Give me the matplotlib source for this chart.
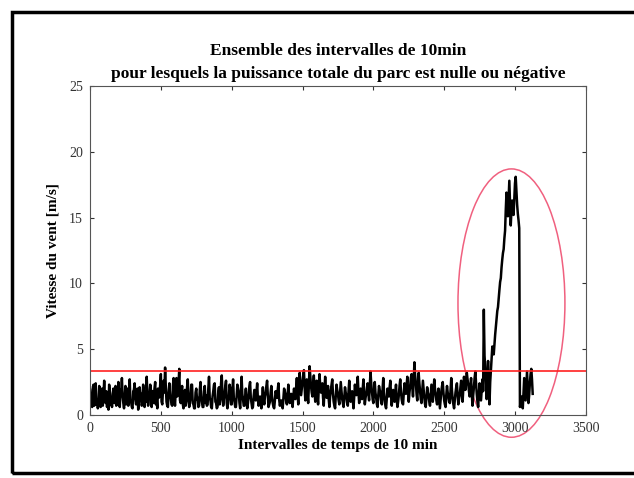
import numpy as np
from matplotlib import pyplot as plt
from matplotlib.patches import Ellipse, Rectangle

# vitesse du vent, un point tous les 5 intervalles de 10 min
pas = 5
vitesse = [
    2.1, 0.9, 1.4, 0.6, 1.9, 2.3, 0.7, 1.2, 2.4, 0.8, 1.1, 0.5, 0.9, 2.2, 1.6, 0.6, 1.0, 2.0, 0.7, 1.5,
    2.6, 1.3, 0.9, 1.8, 0.6, 1.4, 0.4, 2.3, 1.7, 0.8, 1.2, 0.6, 1.6, 2.0, 0.9, 1.5, 2.2, 0.7, 1.1, 0.8,
    2.5, 1.2, 0.6, 1.9, 1.7, 2.8, 1.4, 0.9, 0.5, 1.3, 2.2, 0.8, 1.4, 2.0, 0.7, 1.6, 2.7, 1.1, 1.0, 0.6,
    0.5, 1.8, 1.9, 2.4, 1.2, 0.8, 1.3, 2.0, 0.4, 0.9, 2.1, 1.5, 1.6, 0.7, 0.9, 2.3, 1.8, 0.6, 1.4, 1.0,
    2.9, 1.6, 0.7, 1.2, 1.5, 2.3, 1.9, 0.6, 1.8, 1.1, 0.9, 2.0, 2.5, 0.8, 1.2, 0.5, 2.0, 1.3, 1.4, 2.2,
    3.1, 1.0, 0.8, 1.9, 2.6, 1.7, 3.6, 2.1, 1.0, 0.7, 0.6, 1.8, 2.4, 1.5, 1.3, 0.8, 0.7, 2.2, 2.8, 1.2,
    0.7, 1.9, 2.8, 1.4, 1.6, 2.4, 3.5, 1.1, 0.9, 1.7, 2.2, 0.8, 0.5, 1.5, 1.9, 0.7, 1.1, 2.1, 2.7, 1.3,
    0.6, 1.0, 1.4, 2.3, 2.3, 0.9, 0.8, 0.5, 0.5, 1.7, 2.0, 1.2, 1.3, 0.6, 0.7, 1.9, 2.5, 1.4, 1.0, 0.6,
    0.6, 1.8, 2.2, 0.9, 1.5, 0.7, 0.8, 2.0, 2.9, 1.3, 1.1, 0.6, 0.5, 1.4, 1.8, 2.3, 2.4, 1.0, 0.9, 0.5,
    0.6, 1.7, 2.1, 0.8, 1.2, 2.4, 3.0, 1.5, 0.7, 1.2, 1.6, 2.2, 2.6, 0.9, 0.5, 1.1, 1.3, 2.3, 2.0, 0.8,
    0.8, 1.9, 2.7, 1.3, 1.0, 0.6, 0.6, 1.5, 2.3, 2.0, 1.7, 0.9, 0.5, 1.8, 2.9, 1.6, 1.2, 0.7, 0.7, 1.4,
    2.0, 1.1, 0.5, 0.9, 1.5, 2.2, 2.5, 1.3, 0.9, 0.5, 0.6, 1.4, 1.9, 1.5, 1.1, 1.8, 2.4, 1.2, 0.7, 1.0,
    1.4, 0.9, 0.5, 1.3, 2.1, 1.2, 0.8, 1.4, 1.7, 2.2, 2.6, 1.5, 0.6, 0.8, 1.0, 1.7, 2.2, 1.4, 0.9, 0.6,
    0.5, 1.1, 1.8, 1.6, 1.3, 1.9, 2.4, 1.2, 0.7, 0.9, 1.1, 0.7, 0.5, 1.3, 2.0, 1.8, 1.5, 1.0, 0.8, 1.6,
    2.3, 1.5, 0.9, 1.2, 1.6, 1.0, 0.6, 1.4, 2.0, 1.6, 1.2, 2.1, 2.8, 1.7, 0.8, 2.2, 3.2, 2.3, 1.5, 2.0,
    2.5, 3.0, 3.4, 2.1, 1.1, 1.9, 2.7, 1.6, 0.9, 2.4, 3.7, 2.9, 2.2, 1.7, 1.4, 2.3, 3.0, 1.8, 1.0, 1.9,
    2.6, 1.5, 0.8, 2.1, 3.1, 2.2, 1.7, 2.0, 2.4, 1.3, 0.7, 1.9, 2.9, 2.0, 1.3, 1.8, 2.2, 1.2, 0.6, 1.4,
    1.9, 2.3, 2.7, 1.6, 1.0, 0.7, 0.5, 1.5, 2.3, 1.9, 1.6, 1.1, 0.8, 1.7, 2.5, 1.8, 1.2, 0.9, 0.6, 1.4,
    2.1, 1.7, 1.4, 0.9, 0.7, 1.8, 2.6, 1.6, 1.0, 1.5, 1.8, 1.1, 0.5, 1.4, 2.3, 1.8, 1.5, 2.2, 2.9, 1.7,
    0.9, 1.6, 2.0, 1.4, 1.2, 2.0, 2.7, 1.5, 0.8, 1.3, 1.6, 2.1, 2.4, 1.6, 1.1, 2.2, 3.3, 2.4, 1.8, 1.2,
    0.9, 1.8, 2.5, 1.7, 1.3, 0.8, 0.6, 1.5, 2.2, 1.9, 1.7, 1.1, 0.8, 1.9, 2.8, 1.8, 1.1, 0.7, 0.5, 1.3,
    2.0, 1.6, 1.4, 2.1, 2.6, 1.5, 0.7, 1.4, 1.9, 1.3, 1.0, 1.7, 2.3, 1.2, 0.6, 1.0, 1.5, 2.2, 2.7, 1.8,
    1.2, 0.9, 0.8, 1.7, 2.4, 1.9, 1.6, 2.3, 2.9, 1.8, 1.0, 1.7, 2.2, 2.8, 3.1, 2.1, 1.4, 2.6, 4.0, 3.0,
    2.5, 1.6, 1.1, 2.2, 3.2, 2.4, 1.8, 1.2, 0.9, 1.8, 2.6, 1.9, 1.3, 0.8, 0.6, 1.4, 2.1, 1.7, 1.5, 1.0,
    0.7, 1.5, 2.3, 1.6, 1.0, 1.9, 2.7, 2.0, 1.6, 1.1, 0.8, 1.5, 2.0, 1.2, 0.5, 1.2, 1.8, 2.2, 2.5, 1.7,
    1.1, 0.8, 0.6, 1.5, 2.2, 1.7, 1.4, 1.0, 0.9, 1.9, 2.8, 1.9, 1.2, 0.8, 0.5, 1.1, 1.7, 2.1, 2.4, 1.5,
    0.8, 1.2, 1.5, 2.1, 2.6, 1.7, 1.0, 2.0, 2.9, 2.3, 1.9, 2.6, 3.2, 2.7, 2.3, 1.8, 1.4, 2.2, 2.8, 1.6,
    0.7, 1.5, 2.1, 2.8, 3.3, 2.4, 1.6, 1.0, 0.6, 1.6, 2.4, 1.7, 1.1, 1.9, 2.7, 1.8, 8.0, 4.5, 3.6, 2.2,
    1.2, 2.8, 4.1, 2.0, 0.8, 2.5, 3.4, 4.3, 5.2, 4.8, 4.6, 5.4, 6.1, 6.7, 7.3, 7.9, 8.2, 8.9, 9.5, 10.1,
    10.4, 11.2, 11.8, 12.3, 12.6, 13.4, 14.0, 15.6, 16.9, 16.0, 15.1, 16.5, 17.8, 16.1, 14.4, 15.5, 16.3, 15.7, 15.2, 16.4,
    17.6, 18.1, 17.0, 16.0, 15.3, 14.8, 14.2, 0.6, 0.9, 1.4, 0.8, 0.5, 1.6, 2.8, 1.9, 1.1, 2.2, 3.3, 2.0, 0.9,
    1.5, 2.4, 3.1, 3.5, 2.7, 1.6,
]
seuil = 3.3  # vitesse de demarrage

plt.rcParams['font.family'] = ['Liberation Serif', 'DejaVu Serif']

fig = plt.figure(figsize=(6.34, 4.78), dpi=100)
# cadre autour de la figure
fig.patches.append(Rectangle((0.019, 0.010), 1.2, 0.965, transform=fig.transFigure,
                             fill=False, edgecolor='black', linewidth=2.5))

ax = fig.add_axes([0.142, 0.132, 0.782, 0.688])
x = np.arange(len(vitesse)) * pas
ax.plot(x, vitesse, color='black', linewidth=1.8)
ax.axhline(seuil, color='#ff2020', linewidth=1.2)
ax.add_patch(Ellipse((2975, 8.5), 755, 20.4, fill=False, edgecolor='#f0607f',
                     linewidth=1.1, clip_on=False))

ax.set_xlim(0, 3500)
ax.set_ylim(0, 25)
ax.set_xticks(np.arange(0, 3501, 500))
ax.set_yticks(np.arange(0, 26, 5))
ax.tick_params(direction='in', top=True, right=True, labelsize=10, length=3,
               colors='#333333', pad=5)
for s in ax.spines.values():
    s.set_color('#555555')
    s.set_linewidth(0.8)

ax.set_title("Ensemble des intervalles de 10min\npour lesquels la puissance totale du parc est nulle ou négative",
             fontsize=12.5, fontweight='bold', pad=6, linespacing=1.55)
ax.set_xlabel("Intervalles de temps de 10 min", fontsize=11, fontweight='bold', labelpad=3)
ax.set_ylabel("Vitesse du vent [m/s]", fontsize=11, fontweight='bold', labelpad=7)

plt.savefig("out.png", dpi=100)
